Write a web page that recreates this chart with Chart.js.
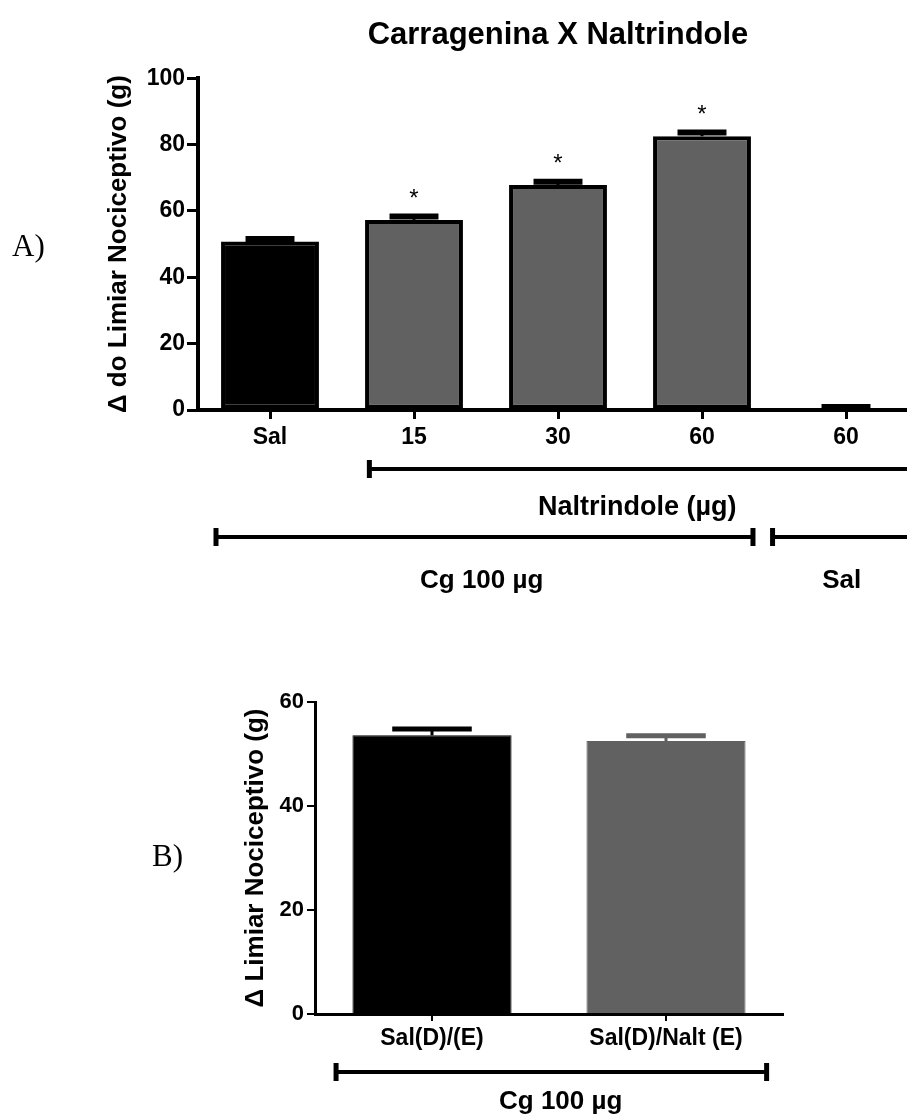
<!DOCTYPE html>
<html>
<head>
<meta charset="utf-8">
<script src="https://cdn.jsdelivr.net/npm/chart.js@4"></script>
<style>
  html, body { margin: 0; padding: 0; background: #fff; }
  body { width: 907px; height: 1118px; overflow: hidden; position: relative; }
  canvas { position: absolute; left: 0; }
  #graphA { top: 0; }
  #graphB { top: 650px; }
  .panel { position: absolute; font-family: 'Liberation Serif', 'Times New Roman', serif; font-size: 31px; line-height: 1; color: #000; }
</style>
</head>
<body>
<canvas id="graphA" width="918" height="650"></canvas>
<canvas id="graphB" width="907" height="468"></canvas>
<div class="panel" style="left:12px;top:230px">A)</div>
<div class="panel" style="left:152px;top:840px">B)</div>
<script>
// panel A: carrageenan + naltrindole doses
const groupsA = ['Sal', '15', '30', '60', '60'];
const meansA = [50.8, 57.3, 67.8, 82.5, 0.6];
const semA = [0.7, 1.0, 1.0, 1.1, 0.3];
const starsA = ['', '*', '*', '*', ''];
const colorsA = ['#000000', '#616161', '#616161', '#616161', '#616161'];
const ticksA = [0, 20, 40, 60, 80, 100];

// panel B: saline pre-treatment
const groupsB = ['Sal(D)/(E)', 'Sal(D)/Nalt (E)'];
const meansB = [53.6, 52.5];
const semB = [1.2, 1.0];
const colorsB = ['#000000', '#616161'];
const ticksB = [0, 20, 40, 60];

const FONT = "'Liberation Sans', Arial, Helvetica, sans-serif";

// error bars (upper side only) + significance marks
const errorBars = {
  id: 'errorBars',
  afterDatasetsDraw(chart, args, opts) {
    const ctx = chart.ctx;
    const yScale = chart.scales.y;
    const values = chart.data.datasets[0].data;
    chart.getDatasetMeta(0).data.forEach((bar, i) => {
      const top = yScale.getPixelForValue(values[i] + opts.sem[i]);
      const half = bar.width / 4;
      const color = opts.colors ? opts.colors[i] : '#000';
      ctx.save();
      ctx.strokeStyle = color;
      ctx.lineWidth = 3;
      ctx.beginPath();
      ctx.moveTo(bar.x, bar.y);
      ctx.lineTo(bar.x, top);
      ctx.stroke();
      ctx.lineWidth = opts.capWidth;
      ctx.beginPath();
      ctx.moveTo(bar.x - half, top);
      ctx.lineTo(bar.x + half, top);
      ctx.stroke();
      if (opts.stars && opts.stars[i]) {
        ctx.fillStyle = '#000';
        ctx.font = '24px ' + FONT;
        ctx.textAlign = 'center';
        ctx.textBaseline = 'alphabetic';
        ctx.fillText(opts.stars[i], bar.x, top - 25 + 14);
      }
      ctx.restore();
    });
  }
};

// group brackets under the x axis
const brackets = {
  id: 'brackets',
  afterDraw(chart, args, opts) {
    const ctx = chart.ctx;
    const x = chart.scales.x;
    const base = chart.chartArea.bottom;
    ctx.save();
    ctx.strokeStyle = '#000';
    ctx.fillStyle = '#000';
    opts.items.forEach(b => {
      const x0 = x.getPixelForValue(b.from);
      const x1 = x.getPixelForValue(b.to);
      const y = base + b.lineY;
      ctx.lineWidth = 4;
      ctx.beginPath();
      ctx.moveTo(x0, y);
      ctx.lineTo(x1, y);
      ctx.stroke();
      ctx.lineWidth = 5;
      ctx.beginPath();
      ctx.moveTo(x0, y - 9);
      ctx.lineTo(x0, y + 9);
      if (b.capRight) {
        ctx.moveTo(x1, y - 9);
        ctx.lineTo(x1, y + 9);
      }
      ctx.stroke();
      if (b.text) {
        ctx.font = 'bold ' + (b.size || 26) + 'px ' + FONT;
        ctx.textAlign = 'center';
        ctx.textBaseline = 'middle';
        ctx.fillText(b.text, x.getPixelForValue(b.labelX), base + b.labelY);
      }
    });
    ctx.restore();
  }
};

function axisStyle(tickLength, width) {
  return {
    grid: { display: true, drawOnChartArea: false, offset: false, color: '#000', lineWidth: width, tickLength: tickLength },
    border: { display: true, color: '#000', width: width + 1 }
  };
}

new Chart(document.getElementById('graphA'), {
  type: 'bar',
  data: {
    labels: groupsA,
    datasets: [{
      data: meansA,
      backgroundColor: colorsA,
      borderColor: '#000',
      borderWidth: 4,
      borderSkipped: false,
      barPercentage: 0.68,
      categoryPercentage: 1
    }]
  },
  options: {
    responsive: false,
    animation: false,
    layout: { padding: { top: 0, right: 0, bottom: 200, left: 0 } },
    plugins: {
      legend: { display: false },
      tooltip: { enabled: false },
      title: {
        display: true,
        fullSize: false,
        text: 'Carragenina X Naltrindole',
        color: '#000',
        font: { family: FONT, size: 31, weight: 'bold', lineHeight: 1.2 },
        padding: { top: 17, bottom: 24 }
      },
      errorBars: { sem: semA, stars: starsA, capWidth: 6 },
      brackets: {
        items: [
          { text: 'Naltrindole (\u00b5g)', size: 27, from: 0.69, to: 4.6, lineY: 59, labelX: 2.55, labelY: 98, capRight: false },
          { text: 'Cg 100 \u00b5g', from: -0.375, to: 3.354, lineY: 127, labelX: 1.47, labelY: 171, capRight: true },
          { text: 'Sal', from: 3.49, to: 4.6, lineY: 127, labelX: 3.97, labelY: 171, capRight: false }
        ]
      }
    },
    scales: {
      x: {
        ...axisStyle(9, 3),
        ticks: { color: '#000', padding: 5, font: { family: FONT, size: 23, weight: 'bold' } },
        afterFit(scale) { scale.height = 40; }
      },
      y: {
        ...axisStyle(11, 3),
        min: ticksA[0],
        max: ticksA[ticksA.length - 1],
        ticks: { stepSize: ticksA[1] - ticksA[0], color: '#000', padding: 2, font: { family: FONT, size: 23, weight: 'bold' } },
        title: {
          display: true,
          text: '\u0394 do Limiar Nociceptivo (g)',
          color: '#000',
          font: { family: FONT, size: 26, weight: 'bold', lineHeight: 1.2 },
          padding: { top: 103, bottom: 0 }
        },
        afterFit(scale) { scale.width = 198; }
      }
    }
  },
  plugins: [errorBars, brackets]
});

new Chart(document.getElementById('graphB'), {
  type: 'bar',
  data: {
    labels: groupsB,
    datasets: [{
      data: meansB,
      backgroundColor: colorsB,
      borderColor: colorsB,
      borderWidth: 1,
      barPercentage: 0.68,
      categoryPercentage: 1
    }]
  },
  options: {
    responsive: false,
    animation: false,
    layout: { padding: { top: 52, right: 124, bottom: 64, left: 0 } },
    plugins: {
      legend: { display: false },
      tooltip: { enabled: false },
      errorBars: { sem: semB, colors: colorsB, capWidth: 5 },
      brackets: {
        items: [
          { text: 'Cg 100 \u00b5g', from: -0.41, to: 1.43, lineY: 58, labelX: 0.55, labelY: 88, capRight: true }
        ]
      }
    },
    scales: {
      x: {
        ...axisStyle(7, 2),
        ticks: { color: '#000', padding: 4, font: { family: FONT, size: 23, weight: 'bold' } },
        afterFit(scale) { scale.height = 40; }
      },
      y: {
        ...axisStyle(8, 2),
        min: ticksB[0],
        max: ticksB[ticksB.length - 1],
        ticks: { stepSize: ticksB[1] - ticksB[0], color: '#000', padding: 3, font: { family: FONT, size: 22, weight: 'bold' } },
        title: {
          display: true,
          text: '\u0394 Limiar Nociceptivo (g)',
          color: '#000',
          font: { family: FONT, size: 26, weight: 'bold', lineHeight: 1.2 },
          padding: { top: 240, bottom: 0 }
        },
        afterFit(scale) { scale.width = 315; }
      }
    }
  },
  plugins: [errorBars, brackets]
});
</script>
</body>
</html>
